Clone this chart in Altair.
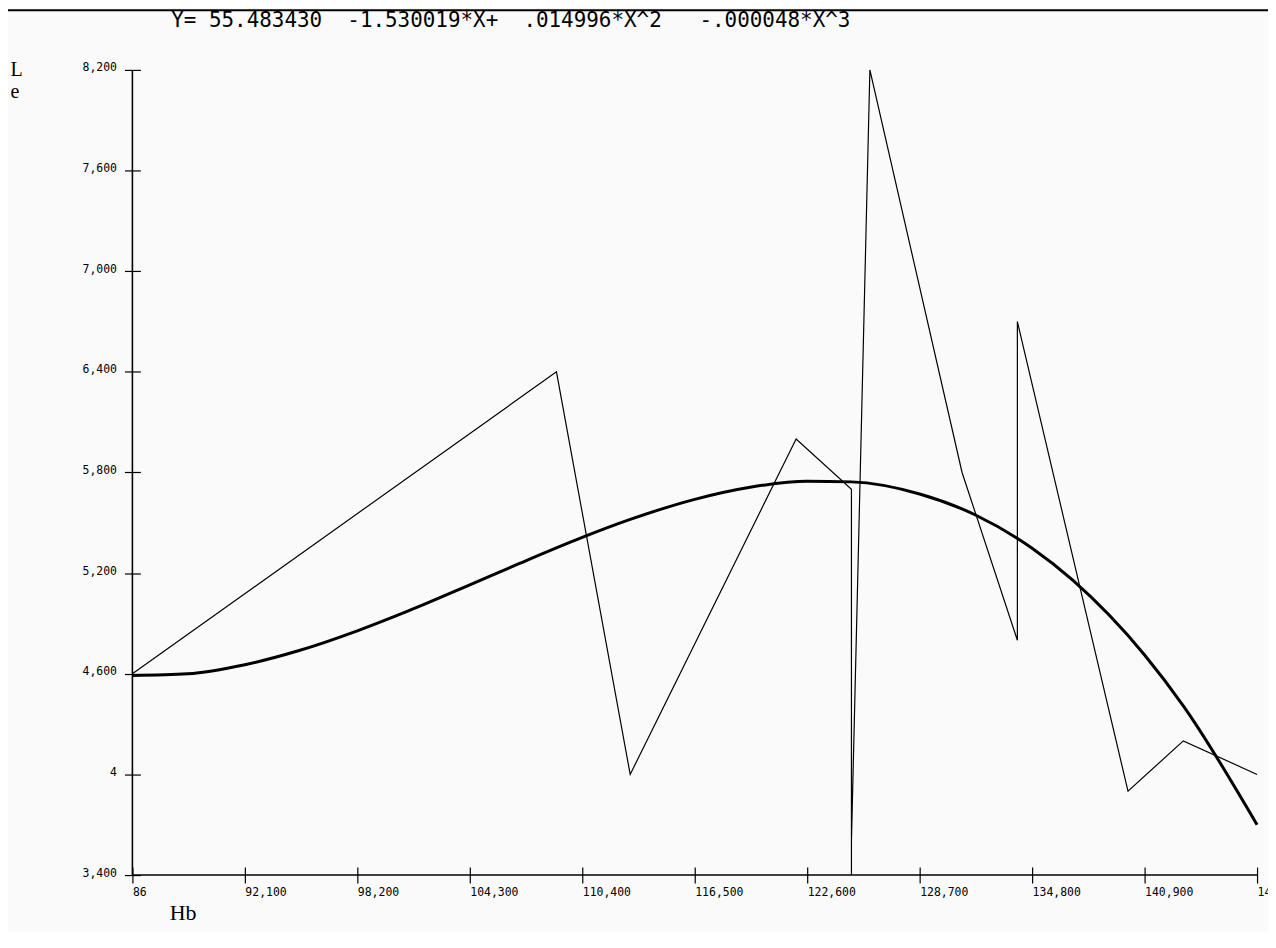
import altair as alt
import pandas as pd

# observed data (Hb vs Le), in drawing order
hb = [86, 109, 113, 122, 125, 125, 125, 126, 131, 134, 134, 140, 143, 147]
le = [4.6, 6.4, 4.0, 6.0, 5.7, 3.4, 3.6, 8.2, 5.8, 4.8, 6.7, 3.9, 4.2, 4.0]

# fitted cubic
fit_x = [86, 89, 92.1, 95, 98.2, 101, 104.3, 107, 110.4, 113, 116.5, 119.5,
         122.6, 125, 128.7, 131.7, 134.8, 137, 140.9, 143, 147]
fit_y = [4.590, 4.600, 4.654, 4.737, 4.856, 4.976, 5.130, 5.258, 5.413, 5.520,
         5.640, 5.712, 5.748, 5.744, 5.672, 5.548, 5.348, 5.158, 4.712, 4.409, 3.700]

x_ticks = [86, 92.1, 98.2, 104.3, 110.4, 116.5, 122.6, 128.7, 134.8, 140.9, 147]
x_labels = ["86", "92,100", "98,200", "104,300", "110,400", "116,500", "122,600",
            "128,700", "134,800", "140,900", "147"]
y_ticks = [3.4, 4.0, 4.6, 5.2, 5.8, 6.4, 7.0, 7.6, 8.2]
y_labels = ["3,400", "4", "4,600", "5,200", "5,800", "6,400", "7,000", "7,600", "8,200"]

title_parts = ["Y=", "55.483430", "-1.530019*X+", ".014996*X^2", "-.000048*X^3"]
title_gaps = [1, 2, 2, 3]
x_title = "Hb"
y_title = ["L", "e"]

NBSP = "\u00a0"
title_text = title_parts[0]
for gap, part in zip(title_gaps, title_parts[1:]):
    title_text += NBSP * gap + part

W, H = 1130, 809
PAD = {"left": 125, "top": 60, "right": 11, "bottom": 55}

obs = pd.DataFrame({"Hb": hb, "Le": le, "i": list(range(len(hb)))})
fit = pd.DataFrame({"Hb": fit_x, "Le": fit_y})
one = pd.DataFrame({"a": [0]})
ttl = pd.DataFrame({"t": [title_text]})


def label_expr(values, labels):
    vals = "[" + ",".join(repr(v) for v in values) + "]"
    labs = "[" + ",".join("'" + s + "'" for s in labels) + "]"
    return f"{labs}[indexof({vals}, datum.value)]"


xscale = alt.Scale(domain=[86, 147], nice=False, zero=False)
yscale = alt.Scale(domain=[3.4, 8.2], nice=False, zero=False)

xaxis = alt.Axis(values=x_ticks, labelExpr=label_expr(x_ticks, x_labels),
                 offset=-8, tickSize=16,
                 domain=False, grid=False, labelAlign="left", labelBaseline="top",
                 labelPadding=4, labelFont="DejaVu Sans Mono", labelFontSize=11.5,
                 labelColor="black", tickColor="black", tickWidth=1.2,
                 labelFlush=False, labelOverlap=False,
                 title=x_title, titleFont="Liberation Serif", titleFontSize=22,
                 titleFontWeight="normal", titleColor="black", titleX=37, titleY=36,
                 titleAlign="left", titleBaseline="top")
yaxis = alt.Axis(values=y_ticks, labelExpr=label_expr(y_ticks, y_labels),
                 offset=-8, tickSize=16,
                 domain=False, grid=False, labelAlign="right",
                 labelBaseline="alphabetic", labelOffset=1,
                 labelPadding=8, labelFont="DejaVu Sans Mono", labelFontSize=11.5,
                 labelColor="black", tickColor="black", tickWidth=1.2,
                 labelFlush=False, labelOverlap=False,
                 title=y_title, titleFont="Liberation Serif", titleFontSize=20,
                 titleLineHeight=22, titleFontWeight="normal", titleColor="black",
                 titleAngle=0, titleX=-131, titleY=-10, titleAlign="left",
                 titleBaseline="top")

raw = alt.Chart(obs).mark_line(color="black", strokeWidth=1.2).encode(
    x=alt.X("Hb:Q", scale=xscale, axis=xaxis),
    y=alt.Y("Le:Q", scale=yscale, axis=yaxis),
    order="i:Q",
)

curve = alt.Chart(fit).mark_line(color="black", strokeWidth=3,
                                 interpolate="monotone").encode(
    x=alt.X("Hb:Q", scale=xscale),
    y=alt.Y("Le:Q", scale=yscale),
)

# equation line above the plot
eq = alt.Chart(ttl).mark_text(align="left", baseline="alphabetic",
                              font="DejaVu Sans Mono", fontSize=21,
                              color="black").encode(
    x=alt.value(39), y=alt.value(-43), text="t:N")

# axis lines
ydom = alt.Chart(one).mark_rule(color="black", strokeWidth=1.6).encode(
    x=alt.value(0), y=alt.value(0), y2=alt.value(H))
xdom = alt.Chart(one).mark_rule(color="black", strokeWidth=1.6).encode(
    x=alt.value(0), x2=alt.value(W), y=alt.value(H))

# outer frame
ftop = alt.Chart(one).mark_rule(color="black", strokeWidth=2).encode(
    x=alt.value(-126), x2=alt.value(W + 20), y=alt.value(-60))
fleft = alt.Chart(one).mark_rule(color="black", strokeWidth=2).encode(
    x=alt.value(-126), y=alt.value(-60), y2=alt.value(H + 80))

chart = alt.layer(raw, curve, eq, ydom, xdom, ftop, fleft).properties(
    width=W, height=H,
    padding=PAD,
    autosize=alt.AutoSizeParams(type="none"),
    background="#fafafa",
).configure_view(stroke=None)

chart.save("out.html", embed_options={"renderer": "svg", "actions": False})
